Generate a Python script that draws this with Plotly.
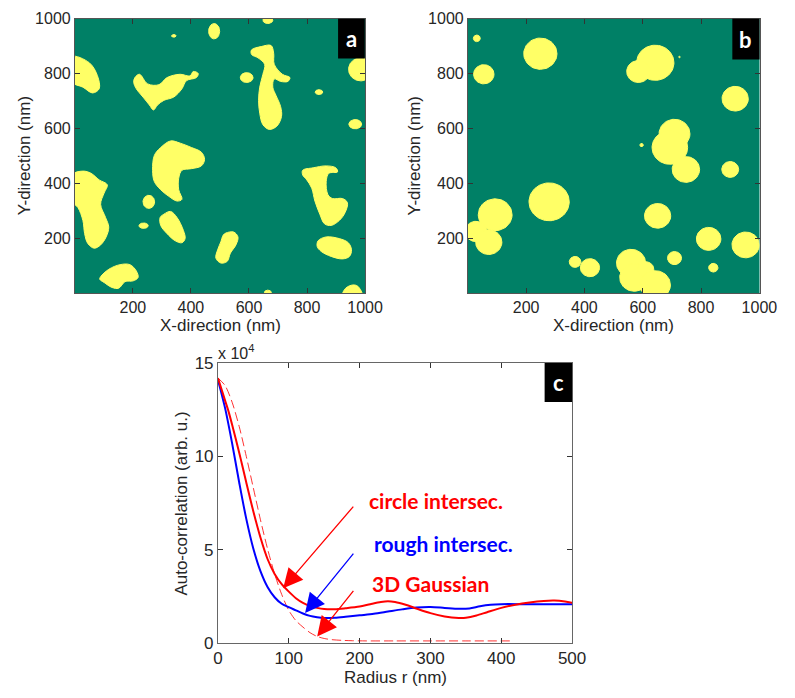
import numpy as np
import plotly.graph_objects as go

W, H = 795, 698
TEAL = "#008066"
YEL = "#FFFF66"

# ---------------- Panel c data (auto-correlation, x1e4) ----------------
r_circle = [0, 10, 15, 20, 30, 35, 40, 50, 60, 70, 80, 90, 100, 110, 120, 130, 140, 150, 165, 180,
            200, 215, 230, 240, 250, 265, 280, 300, 320, 340, 350, 365, 380, 400, 420, 440, 460, 475, 490, 500]
v_circle = [14.2, 13.0, 12.4, 11.7, 10.2, 9.4, 8.6, 7.05, 5.65, 4.5, 3.7, 3.15, 2.75, 2.4, 2.15, 1.98, 1.88, 1.82, 1.81, 1.86,
            1.95, 2.08, 2.2, 2.24, 2.2, 2.05, 1.85, 1.6, 1.42, 1.34, 1.35, 1.47, 1.65, 1.88, 2.05, 2.17, 2.25, 2.27, 2.22, 2.15]

r_rough = [0, 10, 20, 30, 40, 50, 60, 70, 80, 90, 100, 110, 120, 130, 140, 150, 165, 180,
           200, 220, 240, 260, 280, 300, 320, 340, 355, 370, 385, 400, 430, 470, 500]
v_rough = [14.1, 12.6, 10.7, 8.6, 6.65, 5.05, 3.85, 3.0, 2.45, 2.1, 1.92, 1.75, 1.58, 1.45, 1.38, 1.34, 1.35, 1.4,
           1.48, 1.56, 1.68, 1.8, 1.9, 1.93, 1.88, 1.83, 1.85, 1.97, 2.05, 2.08, 2.08, 2.07, 2.07]

r_gauss = [0, 10, 20, 30, 40, 50, 60, 70, 80, 90, 100, 110, 120, 130, 140, 150, 160, 175, 190, 210, 250, 300, 350, 412]
v_gauss = [14.2, 13.8, 12.9, 11.6, 10.0, 8.3, 6.6, 5.05, 3.7, 2.6, 1.75, 1.2, 0.85, 0.55, 0.35, 0.24, 0.18, 0.14, 0.12, 0.11,
           0.11, 0.11, 0.11, 0.11]

c_xticks = [0, 100, 200, 300, 400, 500]
c_yticks = [0, 5, 10, 15]
map_ticks = [200, 400, 600, 800, 1000]

# ---------------- Panel a blobs (nm) ----------------
a_ell_cx = [665, 480, 341, 592, 841, 985, 966, 255, 237, 665]
a_ell_cy = [995, 955, 938, 786, 733, 816, 616, 333, 246, 3]
a_ell_rx = [17, 19, 8, 22, 13, 42, 22, 20, 16, 12]
a_ell_ry = [12, 28, 5, 18, 9, 42, 17, 24, 10, 8]

a_blob_left_top = [(-10, 862), (50, 840), (78, 793), (84, 745), (61, 730), (28, 751), (-10, 770)]
a_blob_arc = [(207, 786), (223, 798), (251, 763), (290, 760), (318, 786), (363, 798), (397, 792), (408, 808),
              (425, 801), (419, 786), (385, 775), (369, 745), (341, 715), (307, 703), (285, 686), (271, 668),
              (257, 686), (235, 715), (212, 745), (203, 769)]
a_blob_hook = [(609, 887), (642, 899), (676, 903), (685, 875), (687, 834), (715, 798), (741, 786), (734, 772),
               (709, 772), (687, 781), (682, 751), (693, 721), (709, 680), (712, 644), (696, 609), (670, 597),
               (648, 614), (637, 656), (633, 703), (637, 751), (648, 798), (654, 834), (631, 858), (609, 870)]
a_blob_mid = [(274, 502), (296, 531), (330, 555), (363, 547), (402, 531), (436, 514), (447, 488), (436, 464),
              (402, 454), (369, 448), (358, 419), (358, 377), (369, 342), (352, 336), (324, 353), (296, 377),
              (274, 407), (268, 448)]
a_blob_left_low = [(-10, 431), (28, 445), (56, 437), (84, 413), (112, 395), (101, 365), (89, 324), (106, 276),
                   (117, 241), (108, 205), (89, 176), (67, 164), (45, 181), (34, 217), (28, 265), (11, 312),
                   (-10, 336)]
a_blob_oval = [(307, 288), (330, 298), (352, 276), (374, 229), (380, 199), (369, 184), (346, 191), (318, 217),
               (296, 247), (294, 276)]
a_blob_stick = [(520, 219), (547, 223), (562, 205), (555, 176), (536, 146), (525, 116), (503, 110), (486, 128),
                (492, 158), (503, 187), (511, 211)]
a_blob_bottom = [(89, 60), (117, 87), (156, 104), (190, 104), (212, 81), (218, 57), (201, 45), (173, 42),
                 (151, 18), (128, 21), (101, 39), (86, 51)]
a_blob_c = [(785, 448), (821, 457), (866, 464), (899, 457), (905, 442), (875, 437), (866, 407), (872, 359),
            (888, 345), (922, 345), (939, 330), (931, 294), (911, 265), (883, 247), (860, 253), (844, 288),
            (827, 336), (816, 383), (799, 413), (785, 431)]
a_blob_right_low = [(838, 191), (866, 205), (911, 199), (942, 184), (953, 158), (946, 134), (922, 125),
                    (883, 134), (849, 152), (835, 170)]
a_blob_corner = [(922, -10), (933, 18), (958, 30), (975, 25), (990, -10)]

a_polygons = [a_blob_left_top, a_blob_arc, a_blob_hook, a_blob_mid, a_blob_left_low, a_blob_oval,
              a_blob_stick, a_blob_bottom, a_blob_c, a_blob_right_low, a_blob_corner]

# ---------------- Panel b circles (nm) ----------------
b_cx = [31, 55, 249, 643, 585, 726, 917, 709, 693, 748, 596, 900, 279, 94, 28, 72, 651, 826, 953, 709, 842,
        368, 419, 560, 571, 610, 643]
b_cy = [929, 798, 873, 840, 808, 861, 709, 581, 531, 451, 540, 451, 333, 286, 225, 186, 282, 198, 176, 128, 93,
        114, 93, 110, 57, 87, 30]
b_r = [12, 35, 57, 64, 40, 3, 45, 53, 61, 47, 6, 29, 69, 58, 37, 45, 45, 42, 47, 24, 16,
       20, 33, 50, 50, 28, 52]

fig = go.Figure()

t = np.linspace(0, 2 * np.pi, 73)


def blob_style():
    return dict(mode="lines", fill="toself", fillcolor=YEL, line=dict(color=YEL, width=1),
                hoverinfo="skip", showlegend=False)


# panel a ellipses
for cx, cy, rx, ry in zip(a_ell_cx, a_ell_cy, a_ell_rx, a_ell_ry):
    fig.add_trace(go.Scatter(x=cx + rx * np.cos(t), y=cy + ry * np.sin(t), xaxis="x", yaxis="y", **blob_style()))
# panel a irregular blobs
for poly in a_polygons:
    xs = [p[0] for p in poly] + [poly[0][0]]
    ys = [p[1] for p in poly] + [poly[0][1]]
    st = blob_style()
    st["line"] = dict(color=YEL, width=1, shape="spline", smoothing=1.0)
    fig.add_trace(go.Scatter(x=xs, y=ys, xaxis="x", yaxis="y", **st))

# panel b circles
for cx, cy, rr in zip(b_cx, b_cy, b_r):
    fig.add_trace(go.Scatter(x=cx + rr * np.cos(t), y=cy + rr * np.sin(t), xaxis="x2", yaxis="y2", **blob_style()))

# panel c curves
fig.add_trace(go.Scatter(x=r_gauss, y=v_gauss, mode="lines",
                         line=dict(color="rgba(255,0,0,0.8)", width=1, dash="9px,4px", shape="spline", smoothing=0.8),
                         xaxis="x3", yaxis="y3", showlegend=False, name="3D Gaussian"))
fig.add_trace(go.Scatter(x=r_rough, y=v_rough, mode="lines",
                         line=dict(color="#0000FF", width=2, shape="spline", smoothing=0.8),
                         xaxis="x3", yaxis="y3", showlegend=False, name="rough intersec."))
fig.add_trace(go.Scatter(x=r_circle, y=v_circle, mode="lines",
                         line=dict(color="#FF0000", width=2, shape="spline", smoothing=0.8),
                         xaxis="x3", yaxis="y3", showlegend=False, name="circle intersec."))

AX_FONT = dict(family="Liberation Sans, Arial, sans-serif", size=16, color="#262626")
AX_FONT_C = dict(family="Liberation Sans, Arial, sans-serif", size=17, color="#262626")


def map_axis(domain):
    return dict(domain=domain, range=[0.5, 1000.5], tickvals=map_ticks, ticks="inside", ticklen=5,
                tickcolor="#333333", showline=True, linecolor="#555555", linewidth=1, mirror="ticks",
                showgrid=False, zeroline=False, tickfont=AX_FONT, fixedrange=True)


ya_dom = [(H - 292) / H, (H - 10) / H]
fig.update_layout(
    width=W, height=H, autosize=False,
    margin=dict(l=0, r=0, t=0, b=0),
    paper_bgcolor="white", plot_bgcolor="white",
    xaxis=dict(**map_axis([72 / W, 371 / W]), anchor="y"),
    yaxis=dict(**map_axis(ya_dom), anchor="x"),
    xaxis2=dict(**map_axis([476.7 / W, 777 / W]), anchor="y2"),
    yaxis2=dict(**map_axis(ya_dom), anchor="x2"),
    xaxis3=dict(domain=[219.3 / W, 584 / W], range=[0, 500], tickvals=c_xticks, ticks="inside", ticklen=5,
                tickcolor="#333333", showline=True, linecolor="#666666", linewidth=1, mirror="ticks",
                showgrid=False, zeroline=False, tickfont=AX_FONT_C, anchor="y3"),
    yaxis3=dict(domain=[(H - 651.7) / H, (H - 364) / H], range=[0, 15], tickvals=c_yticks, ticks="inside", ticklen=5,
                tickcolor="#333333", showline=True, linecolor="#666666", linewidth=1, mirror="ticks",
                showgrid=False, zeroline=False, tickfont=AX_FONT_C, anchor="x3"),
)

# teal backgrounds for the maps
for xr, yr in [("x", "y"), ("x2", "y2")]:
    fig.add_shape(type="rect", xref=f"{xr} domain", yref=f"{yr} domain", x0=0, x1=1, y0=0, y1=1,
                  fillcolor=TEAL, line=dict(width=0), layer="below")

# panel letter boxes
for (x0, x1, y0, y1, letter) in [(343, 370.5, 10, 51, "a"), (749, 777, 10, 52, "b"), (555.7, 584, 364, 404, "c")]:
    fig.add_shape(type="rect", xref="paper", yref="paper", x0=x0 / W, x1=x1 / W, y0=1 - y1 / H, y1=1 - y0 / H,
                  fillcolor="black", line=dict(width=0), layer="above")
    fig.add_annotation(xref="paper", yref="paper", x=(x0 + x1) / 2 / W, y=1 - (y0 + y1) / 2 / H, text=f"<b>{letter}</b>",
                       showarrow=False, font=dict(family="Lato, Open Sans, sans-serif", size=22, color="white"),
                       xanchor="center", yanchor="middle")

TITLE_FONT = dict(family="Liberation Sans, Arial, sans-serif", size=17, color="#262626")
TITLE_FONT_C = dict(family="Liberation Sans, Arial, sans-serif", size=17, color="#262626")
for (x, y, txt, ang, f) in [
    (221.5, 325, "X-direction (nm)", 0, TITLE_FONT),
    (20, 151, "Y-direction (nm)", -90, TITLE_FONT),
    (627, 325, "X-direction (nm)", 0, TITLE_FONT),
    (421.7, 151, "Y-direction (nm)", -90, TITLE_FONT),
    (401.7, 687, "Radius r (nm)", 0, TITLE_FONT_C),
    (181.7, 508, "Auto-correlation (arb. u.)", -90, TITLE_FONT_C),
]:
    fig.add_annotation(xref="paper", yref="paper", x=x / W, y=1 - y / H, text=txt, textangle=ang, showarrow=False,
                       font=f, xanchor="center", yanchor="middle")

fig.add_annotation(xref="paper", yref="paper", x=217 / W, y=1 - 353 / H, text="x 10<sup>4</sup>", showarrow=False,
                   font=dict(family="Liberation Sans, Arial, sans-serif", size=16, color="#262626"),
                   xanchor="left", yanchor="middle")

# curve labels
LBL_FONT = "Lato, Open Sans, sans-serif"
for (x, y, txt, col) in [(210, 7.61, "circle intersec.", "#FF0000"),
                         (218, 5.34, "rough intersec.", "#0000FF"),
                         (214.8, 3.18, "3D Gaussian", "#FF0000")]:
    fig.add_annotation(xref="x3", yref="y3", x=x, y=y, text=f"<b>{txt}</b>", showarrow=False,
                       font=dict(family=LBL_FONT, size=21, color=col), xanchor="left", yanchor="middle")

# arrows
for (hx, hy, tx, ty, col) in [(92.1, 2.93, 192.9, 7.39, "#FF0000"),
                              (123, 1.6, 192.9, 4.87, "#0000FF"),
                              (140.1, 0.35, 192.9, 2.87, "#FF0000")]:
    fig.add_annotation(xref="x3", yref="y3", axref="x3", ayref="y3", x=hx, y=hy, ax=tx, ay=ty, text="",
                       showarrow=True, arrowhead=2, arrowsize=3, arrowwidth=1.3, arrowcolor=col)

fig.write_html("out.html")
